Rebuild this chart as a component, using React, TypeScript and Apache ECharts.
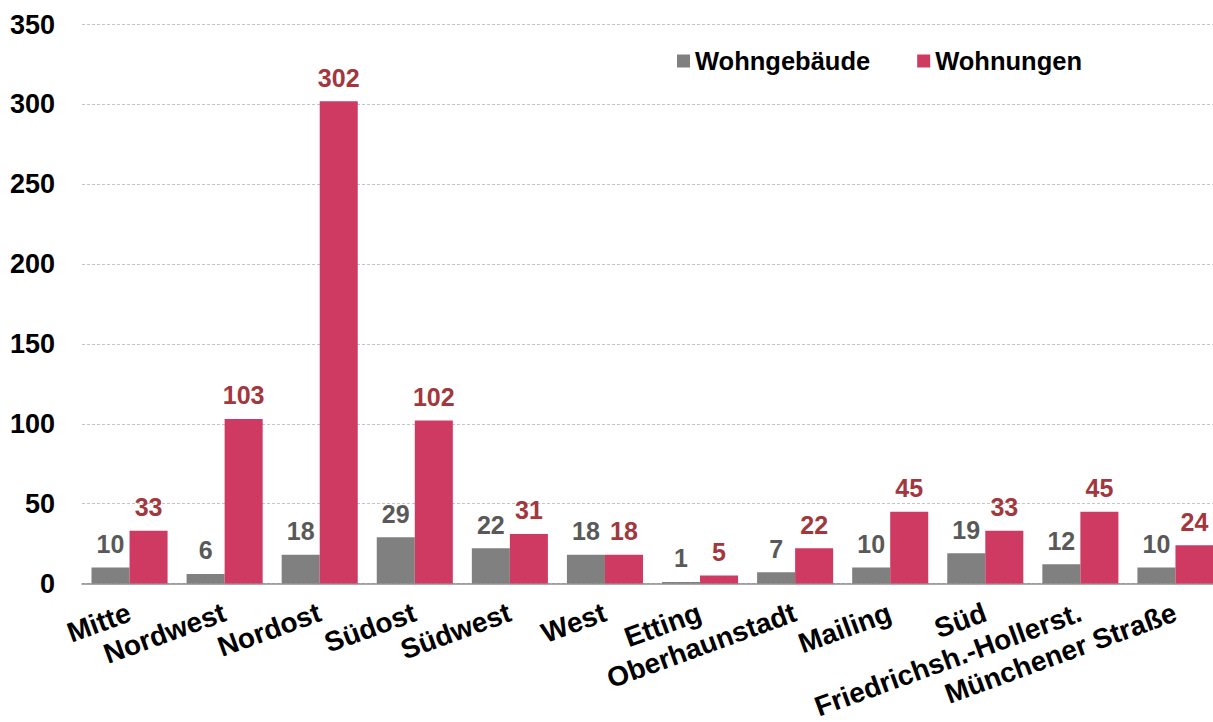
import React, { useEffect, useRef } from "react";
import * as echarts from "echarts";

const categories = [
  "Mitte",
  "Nordwest",
  "Nordost",
  "Südost",
  "Südwest",
  "West",
  "Etting",
  "Oberhaunstadt",
  "Mailing",
  "Süd",
  "Friedrichsh.-Hollerst.",
  "Münchener Straße",
];
const wohngebaeude = [10, 6, 18, 29, 22, 18, 1, 7, 10, 19, 12, 10];
const wohnungen = [33, 103, 302, 102, 31, 18, 5, 22, 45, 33, 45, 24];
const yTicks = { min: 0, max: 350, interval: 50 };

const FONT = "'Liberation Sans', Arial, sans-serif";

export default function App() {
  const ref = useRef<HTMLDivElement>(null);
  useEffect(() => {
    if (!ref.current) return;
    const chart = echarts.init(ref.current, null, { renderer: "svg" });
    chart.setOption({
      animation: false,
      backgroundColor: "#ffffff",
      textStyle: { fontFamily: FONT },
      grid: { left: 82, right: 0, top: 24.5, bottom: 137.5, containLabel: false },
      legend: {
        left: 672,
        top: 43,
        itemWidth: 13,
        itemHeight: 13,
        itemGap: 47,
        icon: "rect",
        textStyle: { fontSize: 25.5, fontWeight: "bold", color: "#000", fontFamily: FONT, padding: [0, 0, 0, 0] },
        data: ["Wohngebäude", "Wohnungen"],
      },
      xAxis: {
        type: "category",
        data: categories,
        axisTick: { show: false },
        axisLine: { show: true, lineStyle: { color: "#8c8c8c", width: 1.5 } },
        axisLabel: {
          interval: 0,
          rotate: 20,
          margin: 28,
          fontSize: 28,
          fontWeight: "bold",
          color: "#000",
          fontFamily: FONT,
        },
      },
      yAxis: {
        type: "value",
        min: yTicks.min,
        max: yTicks.max,
        interval: yTicks.interval,
        axisLine: { show: false },
        axisTick: { show: false },
        splitLine: { lineStyle: { color: "#c4c4c4", type: [3, 2], width: 1 } },
        axisLabel: {
          margin: 27,
          fontSize: 27,
          fontWeight: "bold",
          color: "#000",
          fontFamily: FONT,
        },
      },
      series: [
        {
          name: "Wohngebäude",
          type: "bar",
          data: wohngebaeude,
          barGap: "0%",
          barCategoryGap: "20%",
          itemStyle: { color: "#808080" },
          label: {
            show: true,
            position: "top",
            distance: 11,
            fontSize: 25,
            fontWeight: "bold",
            color: "#595959",
            fontFamily: FONT,
          },
        },
        {
          name: "Wohnungen",
          type: "bar",
          data: wohnungen,
          barGap: "0%",
          barCategoryGap: "20%",
          itemStyle: { color: "#CF3A63" },
          label: {
            show: true,
            position: "top",
            distance: 11,
            fontSize: 25,
            fontWeight: "bold",
            color: "#A3373D",
            fontFamily: FONT,
          },
        },
      ],
    });
    return () => chart.dispose();
  }, []);
  return (
    <div style={{ position: "fixed", left: 0, top: 0, width: 1213, height: 722, overflow: "hidden", background: "#fff" }}>
      <div ref={ref} style={{ width: 1223, height: 722 }} />
    </div>
  );
}
